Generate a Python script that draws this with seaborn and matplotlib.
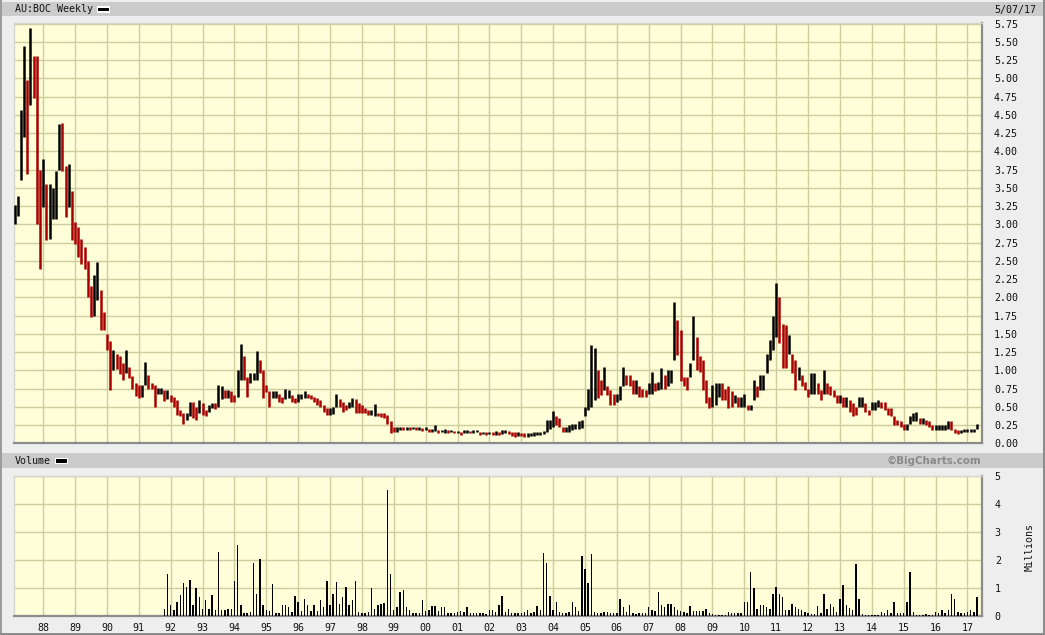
import numpy as np
import pandas as pd
import matplotlib
matplotlib.use("Agg")
import matplotlib.pyplot as plt
import seaborn as sns
from matplotlib.patches import Rectangle
from matplotlib.lines import Line2D

# ---------------- data ----------------
TITLE = "AU:BOC Weekly"
DATE_LABEL = "5/07/17"
VOLUME_LABEL = "Volume"
CREDIT = "\u00a9BigCharts.com"
UNIT_LABEL = "Millions"

price_start = 1987.1     # decimal year of the first bar
bar_step = 0.1           # years between bars

price_high = [
    3.27, 3.39, 4.57, 5.44, 4.98, 5.69, 5.30, 5.30, 3.75, 3.90,   # 1987
    3.55, 3.55, 3.50, 3.73, 4.37, 4.39, 3.80, 3.82, 3.46, 3.03,   # 1988
    2.96, 2.80, 2.69, 2.50, 2.15, 2.30, 2.48, 2.10, 1.80, 1.50,   # 1989
    1.40, 1.28, 1.23, 1.20, 1.10, 1.28, 1.05, 0.92, 0.82, 0.80,   # 1990
    0.80, 1.12, 0.94, 0.82, 0.80, 0.76, 0.76, 0.73, 0.73, 0.66,   # 1991
    0.64, 0.59, 0.46, 0.42, 0.41, 0.57, 0.57, 0.50, 0.59, 0.55,   # 1992
    0.45, 0.52, 0.55, 0.55, 0.80, 0.78, 0.73, 0.73, 0.72, 0.66,   # 1993
    1.00, 1.36, 1.19, 0.91, 0.96, 0.96, 1.26, 1.14, 1.00, 0.80,   # 1994
    0.72, 0.71, 0.71, 0.68, 0.64, 0.75, 0.73, 0.66, 0.62, 0.68,   # 1995
    0.68, 0.71, 0.68, 0.66, 0.64, 0.62, 0.59, 0.52, 0.48, 0.48,   # 1996
    0.50, 0.68, 0.60, 0.57, 0.52, 0.57, 0.62, 0.60, 0.55, 0.52,   # 1997
    0.48, 0.46, 0.46, 0.54, 0.41, 0.41, 0.41, 0.39, 0.30, 0.23,   # 1998
    0.23, 0.23, 0.22, 0.23, 0.22, 0.23, 0.22, 0.22, 0.21, 0.22,   # 1999
    0.20, 0.20, 0.25, 0.18, 0.18, 0.19, 0.18, 0.18, 0.17, 0.17,   # 2000
    0.16, 0.18, 0.18, 0.17, 0.18, 0.18, 0.16, 0.16, 0.16, 0.16,   # 2001
    0.16, 0.17, 0.16, 0.18, 0.18, 0.17, 0.16, 0.15, 0.15, 0.14,   # 2002
    0.14, 0.14, 0.14, 0.15, 0.16, 0.16, 0.17, 0.32, 0.32, 0.44,   # 2003
    0.37, 0.34, 0.23, 0.23, 0.25, 0.27, 0.27, 0.30, 0.32, 0.50,   # 2004
    0.75, 1.35, 1.30, 1.00, 0.87, 1.05, 0.78, 0.73, 0.68, 0.68,   # 2005
    0.78, 1.05, 0.94, 0.94, 0.87, 0.87, 0.78, 0.75, 0.73, 0.82,   # 2006
    0.98, 0.82, 0.84, 1.03, 0.94, 1.00, 1.00, 1.94, 1.69, 1.55,   # 2007
    0.91, 0.91, 1.10, 1.74, 1.46, 1.19, 1.14, 0.87, 0.64, 0.80,   # 2008
    0.82, 0.82, 0.82, 0.75, 0.78, 0.71, 0.66, 0.64, 0.64, 0.68,   # 2009
    0.53, 0.53, 0.87, 0.78, 0.94, 0.94, 1.23, 1.42, 1.74, 2.19,   # 2010
    2.00, 1.64, 1.62, 1.48, 1.23, 1.14, 1.05, 0.94, 0.84, 0.75,   # 2011
    0.96, 0.96, 0.82, 0.73, 1.00, 0.82, 0.78, 0.73, 0.66, 0.66,   # 2012
    0.64, 0.64, 0.59, 0.55, 0.50, 0.64, 0.64, 0.55, 0.46, 0.57,   # 2013
    0.57, 0.59, 0.57, 0.57, 0.48, 0.48, 0.37, 0.32, 0.30, 0.27,   # 2014
    0.27, 0.37, 0.41, 0.43, 0.34, 0.34, 0.32, 0.30, 0.25, 0.25,   # 2015
    0.25, 0.25, 0.25, 0.30, 0.30, 0.20, 0.18, 0.18, 0.20, 0.20,   # 2016
    0.20, 0.20, 0.27,                                             # 2017
]
price_low = [
    3.00, 3.12, 3.60, 4.19, 3.69, 4.64, 4.73, 3.00, 2.39, 3.23,
    2.78, 2.80, 3.07, 3.07, 3.75, 3.73, 3.10, 3.23, 2.78, 2.73,
    2.55, 2.45, 2.39, 2.00, 1.73, 1.75, 1.96, 1.55, 1.55, 1.28,
    0.73, 1.00, 1.02, 0.95, 0.87, 0.96, 0.90, 0.75, 0.65, 0.62,
    0.64, 0.80, 0.75, 0.75, 0.50, 0.68, 0.68, 0.58, 0.60, 0.57,
    0.50, 0.39, 0.38, 0.27, 0.32, 0.38, 0.35, 0.32, 0.41, 0.39,
    0.37, 0.43, 0.48, 0.47, 0.50, 0.60, 0.62, 0.62, 0.57, 0.57,
    0.64, 0.87, 0.87, 0.64, 0.82, 0.87, 0.87, 0.96, 0.62, 0.70,
    0.50, 0.62, 0.62, 0.57, 0.55, 0.60, 0.62, 0.57, 0.55, 0.57,
    0.60, 0.62, 0.62, 0.60, 0.57, 0.52, 0.50, 0.43, 0.39, 0.39,
    0.40, 0.50, 0.50, 0.43, 0.46, 0.48, 0.50, 0.41, 0.41, 0.41,
    0.41, 0.39, 0.39, 0.37, 0.37, 0.36, 0.34, 0.27, 0.14, 0.16,
    0.16, 0.18, 0.18, 0.18, 0.18, 0.19, 0.18, 0.18, 0.17, 0.18,
    0.16, 0.16, 0.17, 0.14, 0.15, 0.14, 0.14, 0.15, 0.14, 0.14,
    0.11, 0.14, 0.14, 0.14, 0.14, 0.15, 0.12, 0.13, 0.12, 0.13,
    0.11, 0.12, 0.12, 0.13, 0.14, 0.13, 0.10, 0.09, 0.10, 0.10,
    0.09, 0.09, 0.10, 0.10, 0.11, 0.11, 0.13, 0.16, 0.20, 0.23,
    0.25, 0.23, 0.16, 0.16, 0.16, 0.18, 0.19, 0.20, 0.21, 0.37,
    0.45, 0.50, 0.59, 0.62, 0.66, 0.73, 0.66, 0.53, 0.53, 0.57,
    0.59, 0.78, 0.80, 0.78, 0.68, 0.68, 0.64, 0.64, 0.64, 0.68,
    0.68, 0.71, 0.73, 0.75, 0.75, 0.78, 0.82, 1.14, 1.21, 0.85,
    0.78, 0.73, 0.91, 1.14, 1.00, 0.98, 0.73, 0.55, 0.48, 0.50,
    0.52, 0.64, 0.59, 0.59, 0.48, 0.50, 0.55, 0.50, 0.50, 0.50,
    0.45, 0.45, 0.59, 0.64, 0.73, 0.73, 0.96, 1.14, 1.28, 1.46,
    1.37, 1.03, 1.03, 1.23, 0.96, 0.73, 0.87, 0.78, 0.73, 0.64,
    0.68, 0.68, 0.68, 0.59, 0.68, 0.68, 0.66, 0.64, 0.55, 0.55,
    0.50, 0.50, 0.43, 0.37, 0.39, 0.50, 0.50, 0.43, 0.39, 0.46,
    0.46, 0.50, 0.48, 0.46, 0.39, 0.37, 0.25, 0.25, 0.23, 0.18,
    0.18, 0.27, 0.30, 0.30, 0.27, 0.27, 0.25, 0.23, 0.18, 0.18,
    0.18, 0.18, 0.18, 0.20, 0.18, 0.14, 0.13, 0.14, 0.16, 0.16,
    0.16, 0.16, 0.20,
]

volume_start = 1991.8    # first volume bar (decimal year)
volume_millions = [
    0.27, 1.52,                                                   # 1991
    0.39, 0.21, 0.51, 0.75, 1.20, 1.05, 1.29, 0.39, 0.99, 0.69,   # 1992
    0.27, 0.57, 0.27, 0.75, 0.21, 2.29, 0.24, 0.21, 0.27, 0.27,   # 1993
    1.26, 2.54, 0.40, 0.12, 0.12, 0.15, 1.88, 0.79, 2.04, 0.39,   # 1994
    0.21, 0.20, 1.14, 0.12, 0.10, 0.39, 0.39, 0.33, 0.15, 0.71,   # 1995
    0.51, 0.20, 0.63, 0.39, 0.20, 0.39, 0.20, 0.57, 0.33, 1.25,   # 1996
    0.39, 0.81, 1.23, 0.45, 0.69, 1.05, 0.39, 0.57, 1.25, 0.15,   # 1997
    0.12, 0.12, 0.15, 1.01, 0.27, 0.39, 0.45, 0.48, 4.50, 1.52,   # 1998
    0.21, 0.33, 0.86, 0.93, 0.33, 0.21, 0.10, 0.10, 0.12, 0.57,   # 1999
    0.20, 0.21, 0.36, 0.36, 0.20, 0.33, 0.33, 0.10, 0.10, 0.10,   # 2000
    0.15, 0.20, 0.15, 0.33, 0.12, 0.10, 0.12, 0.10, 0.10, 0.08,   # 2001
    0.24, 0.21, 0.15, 0.39, 0.71, 0.15, 0.27, 0.10, 0.10, 0.12,   # 2002
    0.10, 0.15, 0.21, 0.12, 0.15, 0.36, 0.24, 2.26, 1.88, 0.71,   # 2003
    0.21, 0.51, 0.15, 0.12, 0.12, 0.15, 0.51, 0.33, 0.20, 2.14,   # 2004
    1.67, 1.17, 2.21, 0.15, 0.12, 0.12, 0.15, 0.15, 0.10, 0.10,   # 2005
    0.12, 0.63, 0.33, 0.15, 0.39, 0.10, 0.08, 0.10, 0.10, 0.12,   # 2006
    0.33, 0.21, 0.20, 0.85, 0.39, 0.33, 0.42, 0.42, 0.33, 0.21,   # 2007
    0.20, 0.15, 0.12, 0.36, 0.20, 0.20, 0.20, 0.20, 0.27, 0.10,   # 2008
    0.08, 0.06, 0.05, 0.05, 0.05, 0.15, 0.10, 0.12, 0.12, 0.12,   # 2009
    0.51, 0.51, 1.58, 0.99, 0.27, 0.39, 0.39, 0.33, 0.27, 0.81,   # 2010
    1.05, 0.81, 0.69, 0.21, 0.21, 0.45, 0.33, 0.27, 0.24, 0.15,   # 2011
    0.10, 0.08, 0.08, 0.36, 0.10, 0.79, 0.27, 0.43, 0.33, 0.15,   # 2012
    0.63, 1.10, 0.39, 0.30, 0.24, 1.85, 0.63, 0.08, 0.06, 0.06,   # 2013
    0.05, 0.06, 0.06, 0.15, 0.12, 0.21, 0.10, 0.50, 0.10, 0.10,   # 2014
    0.12, 0.50, 1.57, 0.15, 0.06, 0.06, 0.05, 0.08, 0.05, 0.05,   # 2015
    0.15, 0.10, 0.21, 0.12, 0.24, 0.79, 0.60, 0.15, 0.12, 0.12,   # 2016
    0.15, 0.21, 0.15, 0.70,                                       # 2017
]

year_ticks = list(range(1988, 2018))
year_labels = [f"{y % 100:02d}" for y in year_ticks]
price_ticks = [0.25 * k for k in range(24)]
volume_ticks = [0, 1, 2, 3, 4, 5]

# ---------------- styling ----------------
W, H = 1045, 635
PANEL = "#fefed8"
GRID = "#cdcd9e"
BAR_GRAY = "#cbcbcb"
FIG_BG = "#eeeeee"
RED = "#a80000"

sns.set_style("white", rc={"axes.facecolor": PANEL, "grid.color": GRID})
plt.rcParams["font.family"] = ["DejaVu Sans Mono", "DejaVu Sans"]

fig = plt.figure(figsize=(W / 100, H / 100), dpi=100, facecolor=FIG_BG)


def fx(x):
    return x / W


def fy(y):
    return 1 - y / H


def band(y0, y1, color):
    fig.patches.append(Rectangle((fx(2), fy(y1)), 1 - fx(2), (y1 - y0) / H,
                                 transform=fig.transFigure, facecolor=color,
                                 edgecolor="none", zorder=0))


band(2, 16, BAR_GRAY)
band(453, 468, BAR_GRAY)

# outer frame lines
fig.add_artist(Line2D([fx(0.7), fx(0.7)], [0, 1], color="#9a9a9a", lw=1.4))
fig.add_artist(Line2D([fx(1044), fx(1044)], [0, 1], color="#8a8a8a", lw=1.4))
fig.add_artist(Line2D([0, 1], [fy(634), fy(634)], color="#8a8a8a", lw=1.4))

x_left, x_right = 14, 982
xmin = 1988 + (x_left - 43.2) / 31.87
xmax = 1988 + (x_right - 43.2) / 31.87

ax = fig.add_axes([fx(x_left), fy(443.3), (x_right - x_left) / W, (443.3 - 22.8) / H])
axv = fig.add_axes([fx(x_left), fy(616.3), (x_right - x_left) / W, (616.3 - 475.7) / H])

for a in (ax, axv):
    a.set_facecolor(PANEL)
    a.set_axisbelow(True)
    a.grid(True, color=GRID, linewidth=1.0)
    a.set_xlim(xmin, xmax)
    a.set_xticks(year_ticks)
    for s in ("top", "left"):
        a.spines[s].set_color("#d6d6cc")
        a.spines[s].set_linewidth(1.0)
    for s in ("bottom", "right"):
        a.spines[s].set_color("#8c8c8c")
        a.spines[s].set_linewidth(1.6)
    a.yaxis.tick_right()

# ---------------- price bars ----------------
n = len(price_high)
pdf = pd.DataFrame({
    "year": price_start + bar_step * np.arange(n),
    "high": price_high,
    "low": price_low,
})
mid = (pdf["high"] + pdf["low"]) / 2
down = mid.diff().fillna(0) < 0
colors = np.where(down, RED, "#000000")
ax.vlines(pdf["year"], pdf["low"], pdf["high"], colors=colors, linewidth=1.8, zorder=3)

ax.set_ylim(0, 5.76)
ax.set_yticks(price_ticks)
ax.set_yticklabels([f"{v:.2f}" for v in price_ticks])
ax.tick_params(axis="y", length=0, pad=8.6, labelsize=7.2, labelcolor="#111111")
ax.tick_params(axis="x", length=0, labelbottom=False)

# ---------------- volume bars ----------------
vdf = pd.DataFrame({
    "year": volume_start + bar_step * np.arange(len(volume_millions)),
    "volume": volume_millions,
})
sns.histplot(data=vdf, x="year", weights="volume", binwidth=bar_step,
             binrange=(volume_start - bar_step / 2, vdf["year"].iloc[-1] + bar_step / 2),
             shrink=0.45, color="black", alpha=1, linewidth=0, ax=axv, zorder=3)
axv.set_xlim(xmin, xmax)
axv.set_ylim(0, 5)
axv.set_yticks(volume_ticks)
axv.set_yticklabels([str(v) for v in volume_ticks])
axv.set_xticks(year_ticks)
axv.set_xticklabels(year_labels)
axv.set_xlabel("")
axv.set_ylabel("")
axv.tick_params(axis="y", length=0, pad=9.2, labelsize=7.2, labelcolor="#111111")
axv.tick_params(axis="x", length=0, pad=4.5, labelsize=7.2, labelcolor="#111111")

# ---------------- header texts ----------------
fig.text(fx(15), fy(9.5), TITLE, ha="left", va="center", fontsize=7.2, color="#111111")
fig.patches.append(Rectangle((fx(97), fy(12.5)), 13 / W, 6 / H, transform=fig.transFigure,
                             facecolor="white", edgecolor="none", zorder=1))
fig.patches.append(Rectangle((fx(98), fy(11.3)), 11 / W, 3.5 / H, transform=fig.transFigure,
                             facecolor="black", edgecolor="none", zorder=2))
fig.text(fx(1036), fy(9.5), DATE_LABEL, ha="right", va="center", fontsize=7.2, color="#111111")

fig.text(fx(15), fy(461), VOLUME_LABEL, ha="left", va="center", fontsize=7.2, color="#111111")
fig.patches.append(Rectangle((fx(55), fy(464)), 13 / W, 6 / H, transform=fig.transFigure,
                             facecolor="white", edgecolor="none", zorder=1))
fig.patches.append(Rectangle((fx(56), fy(462.8)), 11 / W, 3.5 / H, transform=fig.transFigure,
                             facecolor="black", edgecolor="none", zorder=2))
fig.text(fx(981), fy(461), CREDIT, ha="right", va="center", fontsize=7.4,
         fontweight="bold", color="#8a8a8a", family=["DejaVu Sans"])

fig.text(fx(1030), fy(547), UNIT_LABEL, ha="center", va="center", rotation=90,
         fontsize=7.2, color="#111111")

fig.savefig("out.png", dpi=100, facecolor=FIG_BG)
